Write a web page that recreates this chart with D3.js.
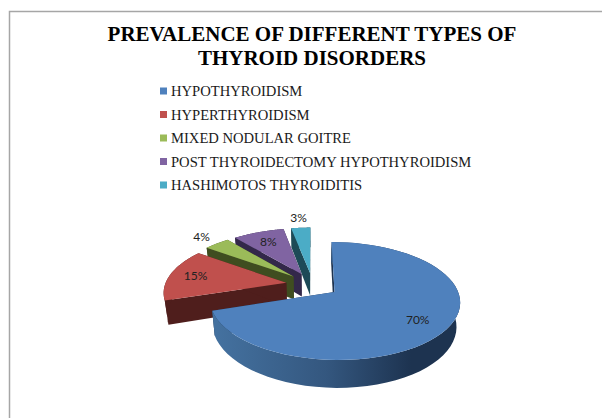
<!DOCTYPE html>
<html>
<head>
<meta charset="utf-8">
<script src="https://cdn.jsdelivr.net/npm/d3@7"></script>
<style>
  html, body { margin: 0; padding: 0; background: #fff; }
  svg { display: block; }
  .title { font: bold 21px "Liberation Serif", serif; fill: #000; text-anchor: middle; }
  .legend-text { font: 14.6px "Liberation Serif", serif; fill: #1a1a1a; }
  .pct { font: 12px Lato, sans-serif; fill: #222; text-anchor: middle; }
</style>
</head>
<body>
<svg width="602" height="418"></svg>
<script>
const categories = ['HYPOTHYROIDISM', 'HYPERTHYROIDISM', 'MIXED NODULAR GOITRE', 'POST THYROIDECTOMY HYPOTHYROIDISM', 'HASHIMOTOS THYROIDITIS'];
const values = [70, 15, 4, 8, 3];
const titleLines = ['PREVALENCE OF DIFFERENT TYPES OF', 'THYROID DISORDERS'];
const topColors = ['#4f81bd', '#c0504d', '#9bbb59', '#8064a2', '#4bacc6'];
const wallColors = ['#1d3350', '#4f1e1c', '#3f4d20', '#33284a', '#1d4a57'];
const labelRadius = [0.76, 0.78, 1.22, 0.75, 1.27];

// perspective settings for the tilted pie
const cx = 312.5, cy = 284.7;
const dist = 6.68, fx = 810, fy = 370;
const explode = 0.22, wallDepth = 155, shrink = 0.025;

const svg = d3.select('svg');

svg.append('path')
  .attr('d', 'M9.5,418V11.5H602')
  .attr('fill', 'none')
  .attr('stroke', '#a6a6a6')
  .attr('stroke-width', 1.5);

svg.selectAll('.title')
  .data(titleLines)
  .enter()
  .append('text')
  .attr('class', 'title')
  .attr('x', 312)
  .attr('y', (d, i) => 41 + i * 23.5)
  .text(d => d);

const legendY = d3.scalePoint().domain(categories).range([91, 185]);

const legend = svg.selectAll('.legend')
  .data(categories)
  .enter()
  .append('g')
  .attr('class', 'legend')
  .attr('transform', d => `translate(160, ${legendY(d)})`);

legend.append('rect')
  .attr('y', -3.5)
  .attr('width', 7)
  .attr('height', 7)
  .attr('fill', (d, i) => topColors[i]);

legend.append('text')
  .attr('class', 'legend-text')
  .attr('x', 11)
  .attr('y', 5)
  .text(d => d);

const slices = d3.pie().sort(null).startAngle(0).endAngle(2 * Math.PI)(values);

// ground point (radius r, angle a) of a slice -> screen, lower=true gives the underside
const project = (slice, r, a, lower) => {
  const mid = (slice.startAngle + slice.endAngle) / 2;
  const X = r * Math.sin(a) + explode * Math.sin(mid);
  const Z = -r * Math.cos(a) - explode * Math.cos(mid);
  let x = cx + fx * X / (dist - Z);
  let y = cy + fy * Z / (dist - Z);
  if (lower) {
    x -= (x - cx) * shrink;
    y += wallDepth / (dist - Z);
  }
  return [x, y];
};

const line = d3.line();
const arcAngles = (a0, a1) => d3.range(0, 61).map(i => a0 + (a1 - a0) * i / 60);

const defs = svg.append('defs');
const wallGrad = defs.append('linearGradient')
  .attr('id', 'blueWall')
  .attr('gradientUnits', 'userSpaceOnUse')
  .attr('x1', 217).attr('x2', 460).attr('y1', 0).attr('y2', 0);
wallGrad.append('stop').attr('offset', '0').attr('stop-color', '#44719f');
wallGrad.append('stop').attr('offset', '0.45').attr('stop-color', '#34577f');
wallGrad.append('stop').attr('offset', '0.8').attr('stop-color', '#1d3350');
wallGrad.append('stop').attr('offset', '1').attr('stop-color', '#1d3350');

const pie = svg.append('g');

// back slices first, blue goes on last
[4, 3, 2, 1, 0].forEach(i => {
  const s = slices[i];
  const g = pie.append('g');
  const wall = wallColors[i];
  const radialWall = a => [
    project(s, 0, a), project(s, 1, a), project(s, 1, a, true), project(s, 0, a, true)
  ];
  const angles = arcAngles(s.startAngle, s.endAngle);
  const rimTop = angles.map(a => project(s, 1, a));
  const rimLow = angles.map(a => project(s, 1, a, true)).reverse();

  g.append('path').attr('d', line(radialWall(s.startAngle)) + 'Z').attr('fill', wall);
  g.append('path').attr('d', line(radialWall(s.endAngle)) + 'Z').attr('fill', wall);
  g.append('path')
    .attr('d', line(rimTop.concat(rimLow)) + 'Z')
    .attr('fill', i === 0 ? 'url(#blueWall)' : wall);
  g.append('path')
    .attr('d', line([project(s, 0, 0)].concat(rimTop)) + 'Z')
    .attr('fill', topColors[i]);
});

svg.selectAll('.pct')
  .data(slices)
  .enter()
  .append('text')
  .attr('class', 'pct')
  .attr('dy', '0.35em')
  .attr('transform', (d, i) => {
    const p = project(d, labelRadius[i], (d.startAngle + d.endAngle) / 2);
    return `translate(${p[0]}, ${p[1]})`;
  })
  .text(d => d.value + '%');
</script>
</body>
</html>
